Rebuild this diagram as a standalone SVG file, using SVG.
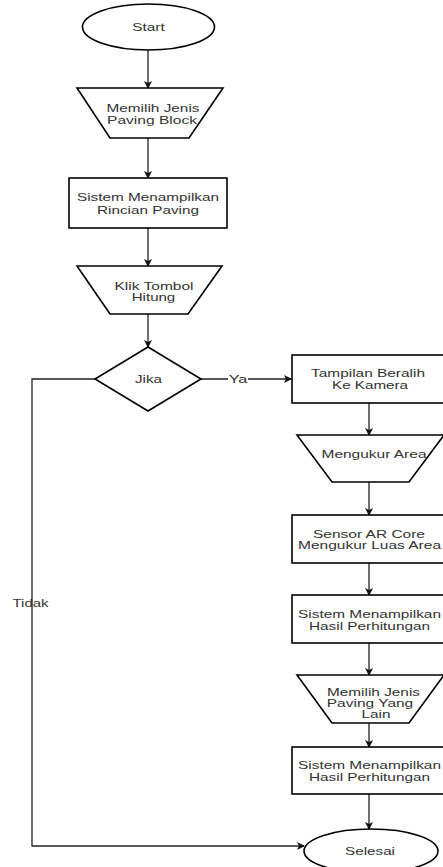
<svg xmlns="http://www.w3.org/2000/svg" width="443" height="867" viewBox="0 0 443 867">
<defs>
<marker id="ah" markerWidth="8" markerHeight="8" refX="7" refY="4" orient="auto" markerUnits="userSpaceOnUse">
<path d="M0,0 L8,4 L0,8 L2,4 Z" fill="#111"/>
</marker>
<style>
.s{fill:#fff;stroke:#000;stroke-width:1.6}
.c{fill:none;stroke:#222;stroke-width:1.3}
.a{marker-end:url(#ah)}
text{font-family:"Liberation Sans",Arial,sans-serif;font-size:11.5px;fill:#333;text-anchor:middle}
</style>
</defs>
<rect width="443" height="867" fill="#fff"/>
<g id="connectors">
<line class="c a" x1="148" y1="50" x2="148" y2="88"/>
<line class="c a" x1="148" y1="138" x2="148" y2="178"/>
<line class="c a" x1="148" y1="228" x2="148" y2="266"/>
<line class="c a" x1="148" y1="314" x2="148" y2="347"/>
<line class="c a" x1="201" y1="379" x2="291" y2="379"/>
<rect x="228" y="372" width="20" height="14" fill="#fff"/>
<text x="238" y="383" textLength="18.7" lengthAdjust="spacingAndGlyphs">Ya</text>
<polyline class="c a" points="95,379 32,379 32,846 304,846"/>
<text x="30.5" y="607" textLength="36" lengthAdjust="spacingAndGlyphs">Tidak</text>
<line class="c a" x1="369" y1="403" x2="369" y2="435"/>
<line class="c a" x1="369" y1="482" x2="369" y2="515"/>
<line class="c a" x1="369" y1="563" x2="369" y2="595"/>
<line class="c a" x1="369" y1="643" x2="369" y2="675"/>
<line class="c a" x1="369" y1="723" x2="369" y2="747"/>
<line class="c a" x1="369" y1="794" x2="369" y2="829"/>
</g>
<g id="start">
<ellipse class="s" cx="148.5" cy="27" rx="66" ry="23"/>
<text x="148.5" y="31" textLength="32.3" lengthAdjust="spacingAndGlyphs">Start</text>
</g>
<g id="memilih-jenis">
<polygon class="s" points="77,88 223,88 189,138 110,138"/>
<text x="153" y="112" textLength="93" lengthAdjust="spacingAndGlyphs">Memilih Jenis</text>
<text x="152" y="124" textLength="90" lengthAdjust="spacingAndGlyphs">Paving Block</text>
</g>
<g id="rincian">
<rect class="s" x="69" y="178" width="158" height="50"/>
<text x="148" y="201" textLength="142" lengthAdjust="spacingAndGlyphs">Sistem Menampilkan</text>
<text x="148" y="214" textLength="102" lengthAdjust="spacingAndGlyphs">Rincian Paving</text>
</g>
<g id="klik">
<polygon class="s" points="77,266 222,266 188,314 110,314"/>
<text x="154" y="290" textLength="79" lengthAdjust="spacingAndGlyphs">Klik Tombol</text>
<text x="153.5" y="301" textLength="43.5" lengthAdjust="spacingAndGlyphs">Hitung</text>
</g>
<g id="jika">
<polygon class="s" points="148,347 201,379 148,411 95,379"/>
<text x="148.5" y="383" textLength="27" lengthAdjust="spacingAndGlyphs">Jika</text>
</g>
<g id="kamera">
<rect class="s" x="292" y="355" width="154" height="48"/>
<text x="368" y="377" textLength="114" lengthAdjust="spacingAndGlyphs">Tampilan Beralih</text>
<text x="370" y="389" textLength="76" lengthAdjust="spacingAndGlyphs">Ke Kamera</text>
</g>
<g id="mengukur">
<polygon class="s" points="297,435 444,435 409,482 332,482"/>
<text x="374" y="458" textLength="105" lengthAdjust="spacingAndGlyphs">Mengukur Area</text>
</g>
<g id="sensor">
<rect class="s" x="292" y="515" width="154" height="48"/>
<text x="369" y="538" textLength="112" lengthAdjust="spacingAndGlyphs">Sensor AR Core</text>
<text x="369.5" y="549" textLength="143" lengthAdjust="spacingAndGlyphs">Mengukur Luas Area</text>
</g>
<g id="hasil1">
<rect class="s" x="292" y="595" width="154" height="48"/>
<text x="369.5" y="618" textLength="143" lengthAdjust="spacingAndGlyphs">Sistem Menampilkan</text>
<text x="369.5" y="630" textLength="121" lengthAdjust="spacingAndGlyphs">Hasil Perhitungan</text>
</g>
<g id="memilih-lain">
<polygon class="s" points="297,675 444,675 409,723 332,723"/>
<text x="373.5" y="696" textLength="93" lengthAdjust="spacingAndGlyphs">Memilih Jenis</text>
<text x="370" y="707" textLength="86.5" lengthAdjust="spacingAndGlyphs">Paving Yang</text>
<text x="376" y="718" textLength="29" lengthAdjust="spacingAndGlyphs">Lain</text>
</g>
<g id="hasil2">
<rect class="s" x="292" y="747" width="154" height="47"/>
<text x="369.5" y="769" textLength="143" lengthAdjust="spacingAndGlyphs">Sistem Menampilkan</text>
<text x="369.5" y="781" textLength="121" lengthAdjust="spacingAndGlyphs">Hasil Perhitungan</text>
</g>
<g id="selesai">
<ellipse class="s" cx="371" cy="851" rx="67" ry="22"/>
<text x="370" y="855" textLength="50" lengthAdjust="spacingAndGlyphs">Selesai</text>
</g>
</svg>
